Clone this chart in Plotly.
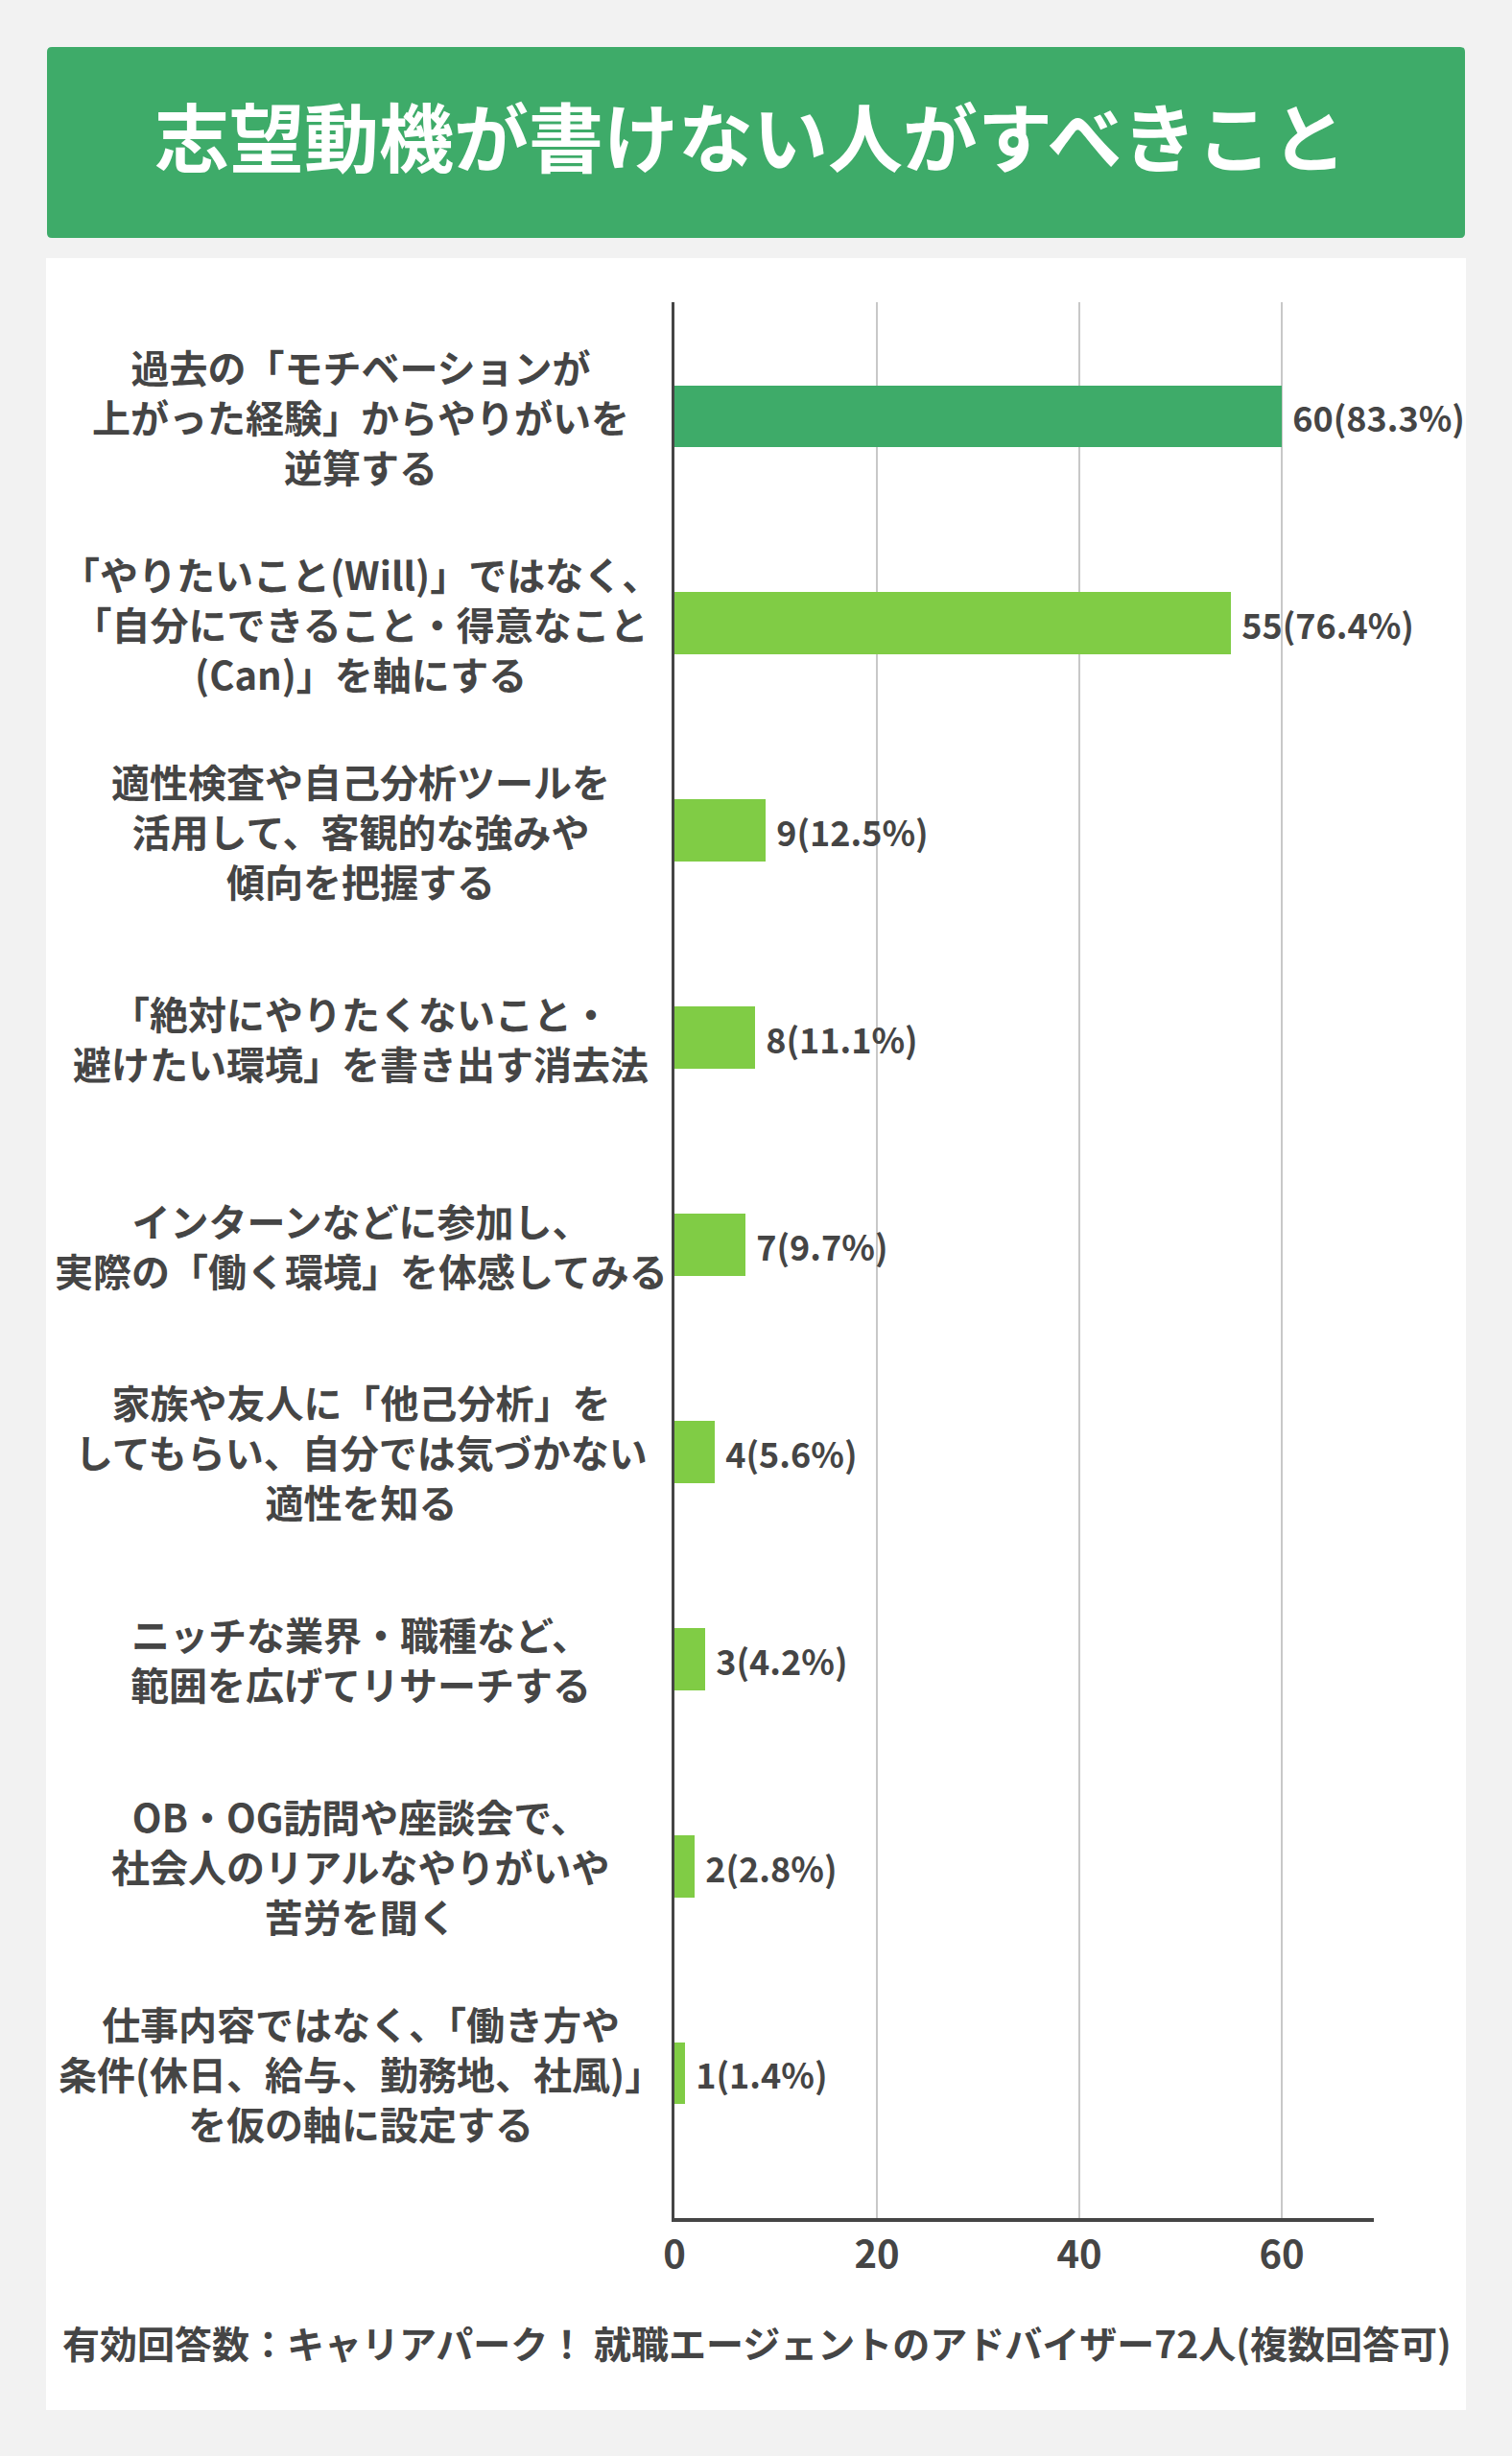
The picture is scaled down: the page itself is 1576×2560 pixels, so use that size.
import plotly.graph_objects as go

W, H = 1576, 2560

categories = [
    "過去の「モチベーションが<br>上がった経験」からやりがいを<br>逆算する",
    "「やりたいこと(Will)」ではなく、<br>「自分にできること・得意なこと<br>(Can)」を軸にする",
    "適性検査や自己分析ツールを<br>活用して、客観的な強みや<br>傾向を把握する",
    "「絶対にやりたくないこと・<br>避けたい環境」を書き出す消去法",
    "インターンなどに参加し、<br>実際の「働く環境」を体感してみる",
    "家族や友人に「他己分析」を<br>してもらい、自分では気づかない<br>適性を知る",
    "ニッチな業界・職種など、<br>範囲を広げてリサーチする",
    "OB・OG訪問や座談会で、<br>社会人のリアルなやりがいや<br>苦労を聞く",
    "仕事内容ではなく、「働き方や<br>条件(休日、給与、勤務地、社風)」<br>を仮の軸に設定する",
]
counts = [60, 55, 9, 8, 7, 4, 3, 2, 1]
percents = ["83.3", "76.4", "12.5", "11.1", "9.7", "5.6", "4.2", "2.8", "1.4"]
tick_values = [0, 20, 40, 60]
title_text = "志望動機が書けない人がすべきこと"
footer_text = "有効回答数：キャリアパーク！ 就職エージェントのアドバイザー72人(複数回答可)"

DARK_GREEN = "#3eab69"
LIGHT_GREEN = "#80cc45"
TEXT = "#454545"
FONT = "Noto Sans CJK JP"

colors = [DARK_GREEN] + [LIGHT_GREEN] * (len(counts) - 1)


def px(x):
    return x / W


def py(y):
    return 1 - y / H


fig = go.Figure()
fig.add_trace(go.Bar(
    y=categories,
    x=counts,
    orientation="h",
    marker=dict(color=colors, line=dict(width=0)),
    width=0.3,
    customdata=percents,
    texttemplate=" %{x}(%{customdata}%)",
    textposition="outside",
    textfont=dict(family=FONT, size=36, color=TEXT, weight=700),
    constraintext="none",
    cliponaxis=False,
    hoverinfo="skip",
))

shapes = []
# white panel
shapes.append(dict(type="rect", xref="paper", yref="paper",
                   x0=px(48), x1=px(1528), y0=py(2512), y1=py(269),
                   fillcolor="white", line=dict(width=0), layer="below"))
# green title banner with small rounded corners
x0, x1, y0, y1 = px(49), px(1527), py(248), py(49)
rx, ry = 5 / W, 5 / H
path = (f"M {x0+rx},{y0} L {x1-rx},{y0} Q {x1},{y0} {x1},{y0+ry} "
        f"L {x1},{y1-ry} Q {x1},{y1} {x1-rx},{y1} L {x0+rx},{y1} "
        f"Q {x0},{y1} {x0},{y1-ry} L {x0},{y0+ry} Q {x0},{y0} {x0+rx},{y0} Z")
shapes.append(dict(type="path", xref="paper", yref="paper", path=path,
                   fillcolor=DARK_GREEN, line=dict(width=0), layer="below"))

annotations = []
for c in categories:
    annotations.append(dict(
        xref="paper", yref="y", x=px(376), y=c, text=c,
        showarrow=False, xanchor="center", yanchor="middle", align="center",
        font=dict(family=FONT, size=40, color=TEXT, weight=700),
    ))
annotations.append(dict(
    xref="paper", yref="paper", x=px(782), y=py(140), text=title_text,
    showarrow=False, xanchor="center", yanchor="middle",
    font=dict(family=FONT, size=78, color="white", weight=700),
))
annotations.append(dict(
    xref="paper", yref="paper", x=px(789), y=py(2441), text=footer_text,
    showarrow=False, xanchor="center", yanchor="middle",
    font=dict(family=FONT, size=39, color=TEXT, weight=700),
))

n = len(categories)
fig.update_layout(
    width=W, height=H,
    margin=dict(l=0, r=0, t=0, b=0, pad=0, autoexpand=False),
    paper_bgcolor="#f2f2f2",
    plot_bgcolor="rgba(0,0,0,0)",
    showlegend=False,
    shapes=shapes,
    annotations=annotations,
    bargap=0,
    xaxis=dict(
        domain=[px(703), px(1432)],
        range=[0, 69.1],
        tickvals=tick_values,
        showgrid=True, gridcolor="#c8c8c8", gridwidth=2,
        showline=True, linecolor=TEXT, linewidth=4,
        zeroline=False, ticks="",
        ticklabelstandoff=0,
        automargin=False,
        tickfont=dict(family=FONT, size=40, color=TEXT, weight=700),
        fixedrange=True,
    ),
    yaxis=dict(
        domain=[py(2312), py(315)],
        type="category",
        categoryorder="array", categoryarray=categories,
        range=[n - 1 + 0.699, -0.551],
        showticklabels=False, ticks="",
        showgrid=False, zeroline=False,
        showline=True, linecolor=TEXT, linewidth=3,
        automargin=False,
        fixedrange=True,
    ),
)

fig.write_html("out.html", config={"displayModeBar": False},
               post_script="document.body.style.margin='0';")
